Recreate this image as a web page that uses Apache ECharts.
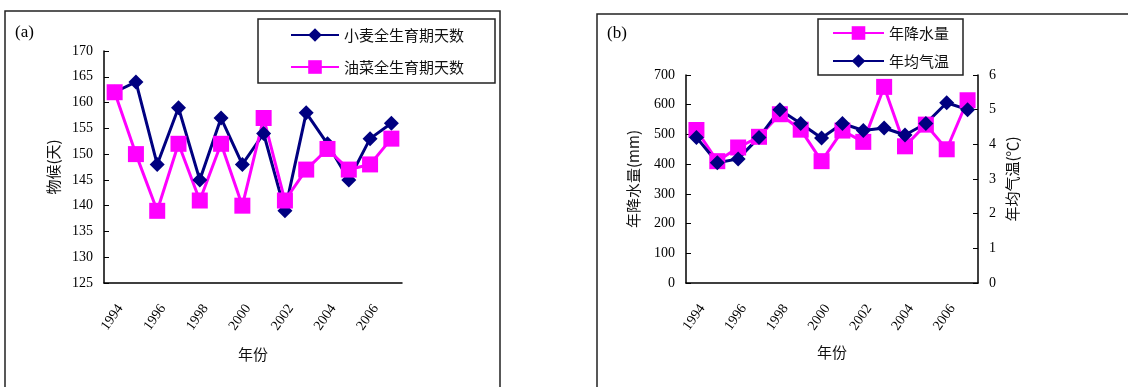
<!DOCTYPE html>
<html>
<head>
<meta charset="utf-8">
<script src="https://cdn.jsdelivr.net/npm/echarts@6/dist/echarts.min.js"></script>
<style>
html,body{margin:0;padding:0;background:#fff;}
#c{width:1128px;height:387px;}
</style>
</head>
<body>
<div id="c"></div>
<script>
const years = ['1994','1995','1996','1997','1998','1999','2000','2001','2002','2003','2004','2005','2006','2007'];
const wheatDays = [162,164,148,159,145,157,148,154,139,158,152,145,153,156];
const rapeDays  = [162,150,139,152,141,152,140,157,141,147,151,147,148,153];
const precip    = [515,410,456,492,568,516,410,513,475,660,460,533,450,615];
const temp      = [4.2,3.47,3.58,4.2,5.0,4.6,4.18,4.6,4.4,4.47,4.27,4.6,5.2,5.0];

const NAVY = '#000080', MAG = '#FF00FF';
const SERIF = 'Liberation Serif';
const CJK = 'Noto Sans CJK SC';

const chart = echarts.init(document.getElementById('c'), null, {renderer:'canvas'});

function catAxis(gi, gap){
  return {
    gridIndex: gi, type:'category', data: years, boundaryGap: true,
    axisLine:{lineStyle:{color:'#000', width:1.5}},
    axisTick:{inside:true, length:5, interval:0, lineStyle:{color:'#000', width:1}},
    axisLabel:{interval:1, rotate:55, margin:19, verticalAlign:'top', fontSize:14, fontFamily:SERIF, color:'#000'},
    splitLine:{show:false},
    name:'年份', nameLocation:'middle', nameGap:gap,
    nameTextStyle:{fontSize:15, fontFamily:CJK, color:'#111'}
  };
}
function valAxis(gi, min, max, interval, name, gap, pos){
  return {
    gridIndex: gi, type:'value', min:min, max:max, interval:interval, position: pos || 'left',
    axisLine:{show:true, lineStyle:{color:'#000', width:1.5}},
    axisTick:{show:true, inside:true, length:5, lineStyle:{color:'#000', width:1}},
    axisLabel:{margin:11, fontSize:14, fontFamily:SERIF, color:'#000'},
    splitLine:{show:false},
    name:name, nameLocation:'middle', nameGap:gap, nameRotate: 90,
    nameTextStyle:{fontSize:15, fontFamily:CJK, color:'#111'}
  };
}

chart.setOption({
  animation:false,
  backgroundColor:'#fff',
  graphic:[
    {type:'rect', shape:{x:5, y:11, width:495, height:400}, style:{fill:'none', stroke:'#222', lineWidth:1.5}},
    {type:'rect', shape:{x:597, y:14, width:600, height:400}, style:{fill:'none', stroke:'#222', lineWidth:1.5}},
    {type:'text', left:15, top:24, style:{text:'(a)', fontSize:17, fontFamily:SERIF, fill:'#000'}},
    {type:'text', left:607, top:25, style:{text:'(b)', fontSize:17, fontFamily:SERIF, fill:'#000'}}
  ],
  grid:[
    {left:104, top:51, right:726, bottom:104},
    {left:686, top:75, right:150, bottom:104}
  ],
  legend:[
    {data:['小麦全生育期天数','油菜全生育期天数'], orient:'vertical', left:258, top:19,
     padding:[8.5,31,8.5,32], itemWidth:48, itemHeight:17, itemGap:17,
     borderColor:'#222', borderWidth:1.5,
     textStyle:{fontSize:15, fontFamily:CJK, color:'#111'}},
    {data:['年降水量','年均气温'], orient:'vertical', left:818, top:19,
     padding:[6.5,14,6.5,14], itemWidth:51, itemHeight:17, itemGap:13,
     borderColor:'#222', borderWidth:1.5,
     textStyle:{fontSize:15, fontFamily:CJK, color:'#111'}}
  ],
  xAxis:[catAxis(0,64), catAxis(1,62)],
  yAxis:[
    valAxis(0,125,170,5,'物候(天)',43),
    valAxis(1,0,700,100,'年降水量(mm)',45),
    valAxis(1,0,6,1,'年均气温(℃)',27,'right')
  ],
  series:[
    {name:'小麦全生育期天数', type:'line', xAxisIndex:0, yAxisIndex:0, data:wheatDays,
     symbol:'diamond', symbolSize:15, showAllSymbol:true,
     lineStyle:{color:NAVY, width:3}, itemStyle:{color:NAVY}},
    {name:'油菜全生育期天数', type:'line', xAxisIndex:0, yAxisIndex:0, data:rapeDays,
     symbol:'rect', symbolSize:16, showAllSymbol:true,
     lineStyle:{color:MAG, width:3}, itemStyle:{color:MAG}},
    {name:'年降水量', type:'line', xAxisIndex:1, yAxisIndex:1, data:precip,
     symbol:'rect', symbolSize:16, showAllSymbol:true,
     lineStyle:{color:MAG, width:3}, itemStyle:{color:MAG}},
    {name:'年均气温', type:'line', xAxisIndex:1, yAxisIndex:2, data:temp,
     symbol:'diamond', symbolSize:15, showAllSymbol:true,
     lineStyle:{color:NAVY, width:3}, itemStyle:{color:NAVY}}
  ]
});
</script>
</body>
</html>
